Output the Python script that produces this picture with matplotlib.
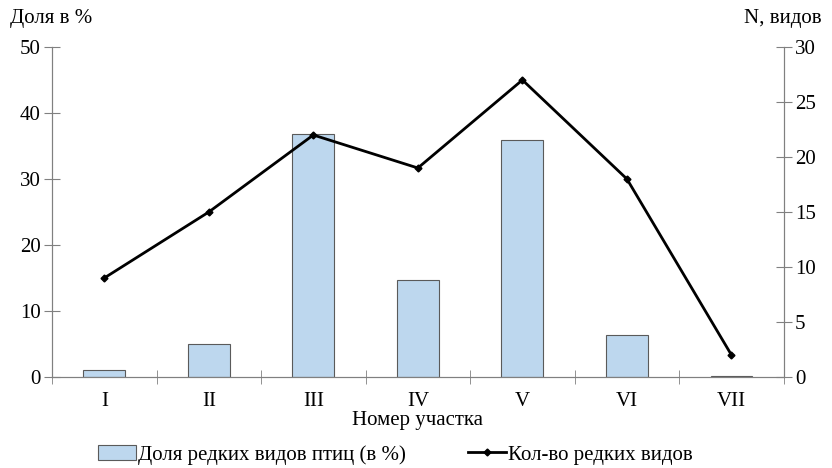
import numpy as np
import matplotlib.pyplot as plt
from matplotlib.ticker import FixedLocator

plt.rcParams['font.family'] = ['Liberation Serif', 'DejaVu Serif']

sites = ['I', 'II', 'III', 'IV', 'V', 'VI', 'VII']
share = [1.1, 5.0, 36.8, 14.7, 35.9, 6.3, 0.2]
count = [9, 15, 22, 19, 27, 18, 2]

x = np.arange(len(sites))
axcol = '#808080'
fs = 15

fig = plt.figure(figsize=(8.32, 4.68), dpi=100)
ax = fig.add_axes([0.0625, 0.1944, 0.8795, 0.7052])
ax2 = ax.twinx()

bars = ax.bar(x, share, width=0.4, color='#bdd7ee', edgecolor='#5a5a5a',
              linewidth=0.8, label='Доля редких видов птиц (в %)', zorder=2)
line, = ax2.plot(x, count, color='black', lw=2, marker='D', ms=3.5,
                 label='Кол-во редких видов', zorder=3)

ax.set_xlim(-0.5, len(sites) - 0.5)
ax.set_ylim(0, 50)
ax2.set_ylim(0, 30)
ax.set_yticks(range(0, 51, 10))
ax2.set_yticks(range(0, 31, 5))

ax.set_xticks(x)
ax.set_xticklabels(sites)
ax.xaxis.set_minor_locator(FixedLocator(np.arange(-0.5, len(sites), 1)))
ax.tick_params(axis='x', which='major', length=0, labelsize=fs, pad=11)
ax.tick_params(axis='x', which='minor', length=10, direction='inout', color=axcol)
ax.tick_params(axis='y', length=12, direction='inout', color=axcol, labelsize=fs, pad=2)
ax2.tick_params(axis='y', length=12, direction='inout', color=axcol, labelsize=fs, pad=2)

for a in (ax, ax2):
    a.spines['top'].set_visible(False)
    for s in ('left', 'right', 'bottom'):
        a.spines[s].set_color(axcol)

ax.set_xlabel('Номер участка', fontsize=fs, labelpad=0)
fig.text(0.012, 0.96, 'Доля в %', fontsize=fs, ha='left', va='center')
fig.text(0.988, 0.96, 'N, видов', fontsize=fs, ha='right', va='center')

fig.legend(handles=[bars, line], loc='center', bbox_to_anchor=(0.475, 0.028),
           ncol=2, frameon=False, fontsize=fs, handlelength=1.8,
           handletextpad=0.1, columnspacing=3)

fig.savefig('out.png', dpi=100)
